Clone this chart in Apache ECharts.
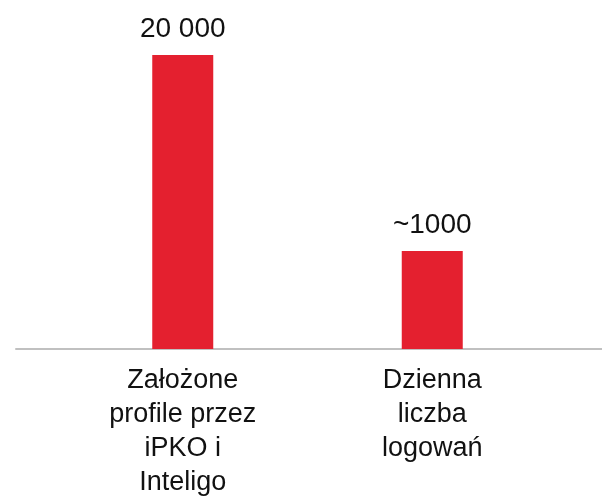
<!DOCTYPE html>
<html><head><meta charset="utf-8">
<script src="https://cdn.jsdelivr.net/npm/echarts@6/dist/echarts.min.js"></script>
<style>html,body{margin:0;padding:0;background:#fff}#c{width:602px;height:500px}</style>
</head><body><div id="c"></div>
<script>
const categories = ['Założone\nprofile przez\niPKO i\nInteligo', 'Dzienna\nliczba\nlogowań'];
// bar heights as drawn (relative scale)
const barHeights = [30, 10];
// value labels as printed on the chart
const valueLabels = ['20 000', '~1000'];

const chart = echarts.init(document.getElementById('c'), null, {renderer: 'canvas'});
chart.setOption({
  animation: false,
  grid: [
    {left: 58, right: 45, top: 55, bottom: 151},
    {left: 16, right: 0, top: 55, bottom: 151}
  ],
  xAxis: [
    {
      type: 'category', gridIndex: 0, data: categories,
      axisLine: {show: false}, axisTick: {show: false},
      axisLabel: {
        interval: 0, margin: 15, color: '#111',
        fontFamily: '"Liberation Sans", sans-serif',
        fontSize: 27, lineHeight: 34
      }
    },
    {
      type: 'value', gridIndex: 1, min: 0, max: 1,
      axisLine: {show: true, lineStyle: {color: '#c0c0c0', width: 2}},
      axisTick: {show: false}, axisLabel: {show: false}, splitLine: {show: false}
    }
  ],
  yAxis: [
    {type: 'value', gridIndex: 0, min: 0, max: 30, show: false},
    {type: 'value', gridIndex: 1, min: 0, max: 1, show: false}
  ],
  series: [{
    type: 'bar', xAxisIndex: 0, yAxisIndex: 0,
    data: barHeights, barWidth: 61,
    itemStyle: {color: '#e4202f'},
    label: {
      show: true, position: 'top', distance: 12, color: '#111',
      fontFamily: '"Liberation Sans", sans-serif', fontSize: 28,
      formatter: p => valueLabels[p.dataIndex]
    }
  }]
});
</script></body></html>
